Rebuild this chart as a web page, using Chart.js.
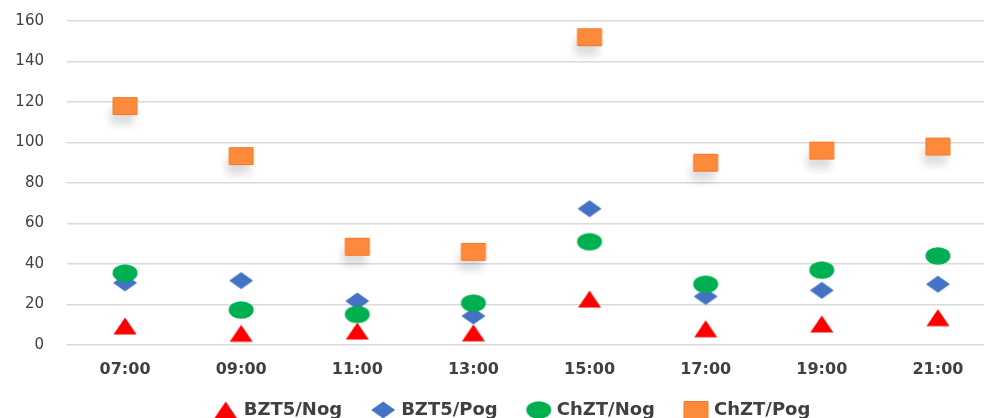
<!DOCTYPE html>
<html>
<head>
<meta charset="utf-8">
<script src="https://cdn.jsdelivr.net/npm/chart.js@4.4.0/dist/chart.umd.min.js"></script>
<style>
html,body{margin:0;padding:0;background:#fff;overflow:hidden;}
#wrap{width:1026px;height:418px;position:relative;}
</style>
</head>
<body>
<div id="wrap"><canvas id="c" width="1026" height="418"></canvas></div>
<script>
const categories = ['07:00','09:00','11:00','13:00','15:00','17:00','19:00','21:00'];
const bztNog  = [9.4, 5.8, 6.9, 6, 22.7, 8, 10.4, 13.5];
const bztPog  = [30.7, 31.8, 21.7, 14.3, 67.3, 24, 27, 30];
const chztNog = [35.5, 17.3, 15.1, 20.7, 51, 30, 37, 44];
const chztPog = [118, 93.3, 48.5, 46, 152, 90, 96, 98];
const yTicks = [0,20,40,60,80,100,120,140,160];
const seriesNames = ['BZT5/Nog','BZT5/Pog','ChZT/Nog','ChZT/Pog'];

function makeMarker(kind, withShadow){
  const W = 48, H = 48;
  const cv = document.createElement('canvas');
  cv.width = W; cv.height = H;
  const ctx = cv.getContext('2d');
  const cx = W/2, cy = H/2;
  function path(){
    ctx.beginPath();
    if(kind==='tri'){
      ctx.moveTo(cx, cy-8.5); ctx.lineTo(cx+11.5, cy+8.5); ctx.lineTo(cx-11.5, cy+8.5); ctx.closePath();
    } else if(kind==='dia'){
      ctx.moveTo(cx, cy-8.5); ctx.lineTo(cx+12, cy); ctx.lineTo(cx, cy+8.5); ctx.lineTo(cx-12, cy); ctx.closePath();
    } else if(kind==='cir'){
      ctx.ellipse(cx, cy, 12.5, 8.7, 0, 0, Math.PI*2);
    } else {
      ctx.rect(cx-12, cy-8.5, 24, 17);
    }
  }
  const colors = {tri:'#FF0000', dia:'#4472C4', cir:'#00B050', sq:'#FD8A3B'};
  if(withShadow){
    ctx.save();
    ctx.shadowColor = 'rgba(0,0,0,0.14)';
    ctx.shadowBlur = 8;
    ctx.shadowOffsetX = -3;
    ctx.shadowOffsetY = 10;
    path(); ctx.fillStyle = colors[kind]; ctx.fill();
    ctx.restore();
  }
  path(); ctx.fillStyle = colors[kind]; ctx.fill();
  if(kind==='sq'){ ctx.lineWidth = 1; ctx.strokeStyle = '#F5782A'; ctx.stroke(); }
  return cv;
}

const markers = [makeMarker('tri',false), makeMarker('dia',false), makeMarker('cir',false), makeMarker('sq',true)];
const legendMarkers = [makeMarker('tri',false), makeMarker('dia',false), makeMarker('cir',false), makeMarker('sq',false)];
const seriesData = [bztNog, bztPog, chztNog, chztPog];

const datasets = seriesNames.map((n,i)=>({
  label: n,
  data: seriesData[i],
  showLine: false,
  pointStyle: markers[i],
  pointRadius: 12,
  pointHoverRadius: 12,
  order: 3 - i
}));

const legendFix = {
  id: 'legendFix',
  beforeLayout(chart){
    const lg = chart.legend;
    if(lg && !lg._fixed){
      const orig = lg.fit;
      lg.fit = function(){ orig.call(this); this.height = 23; };
      lg._fixed = true;
    }
  },
  afterLayout(chart){
    const lg = chart.legend;
    if(lg){ lg.top = 369; lg.bottom = 418; lg.height = 49; lg.left += 10; lg.right += 10; }
  }
};

new Chart(document.getElementById('c'), {
  type: 'line',
  data: { labels: categories, datasets },
  plugins: [legendFix],
  options: {
    responsive: false,
    animation: false,
    layout: { padding: { left: 11, right: 30, top: 21, bottom: 0 } },
    scales: {
      x: {
        offset: true,
        grid: { display: false, drawTicks: false },
        border: { display: false },
        ticks: { color: '#404040', font: { family: 'DejaVu Sans', size: 16, weight: 'bold' }, padding: 15, maxRotation: 0 },
        afterFit(s){ s.height = 50; }
      },
      y: {
        min: 0, max: 160,
        afterBuildTicks(s){ s.ticks = yTicks.map(v=>({value:v})); },
        grid: { color: '#d9d9d9', lineWidth: 1.5, drawTicks: false },
        border: { display: false },
        ticks: { color: '#404040', font: { family: 'DejaVu Sans', size: 15 }, padding: 23 },
        afterFit(s){ s.width = 56; s.paddingTop = 0; s.paddingBottom = 0; }
      }
    },
    plugins: {
      tooltip: { enabled: false },
      legend: {
        position: 'bottom',
        labels: {
          usePointStyle: true,
          color: '#404040',
          font: { family: 'DejaVu Sans', size: 18, weight: 'bold' },
          padding: 32,
          sort: (a,b)=>a.datasetIndex-b.datasetIndex,
          generateLabels(chart){
            const items = Chart.defaults.plugins.legend.labels.generateLabels(chart);
            items.forEach(it=>{ it.pointStyle = legendMarkers[it.datasetIndex]; });
            return items;
          }
        }
      }
    }
  }
});
</script>
</body>
</html>
